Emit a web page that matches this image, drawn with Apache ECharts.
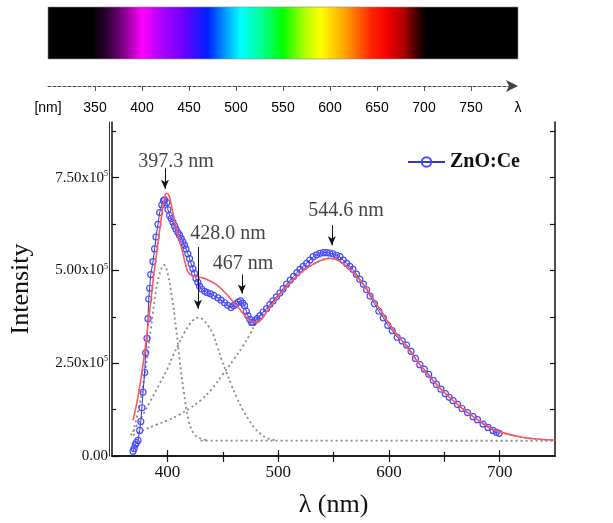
<!DOCTYPE html>
<html>
<head>
<meta charset="utf-8">
<script src="https://cdn.jsdelivr.net/npm/echarts@6/dist/echarts.min.js"></script>
<style>
  html, body { margin: 0; padding: 0; background: #fff; }
  #chart { width: 613px; height: 523px; }
</style>
</head>
<body>
<div id="chart"></div>
<script>
// spectrum strip (wavelength -> colour)
const spectrumTicks = [350, 400, 450, 500, 550, 600, 650, 700, 750]
const spectrumLabels = [300, 350, 400, 450, 500, 550, 600, 650, 700, 750, 800]
const spectrumStops = [
  [300, '#000000'], [347, '#000000'], [362, '#2a0030'], [382, '#8a0090'],
  [400, '#ff00ff'], [420, '#b000ff'], [445, '#6a00ff'], [470, '#0020ff'],
  [487, '#0090ff'], [505, '#00ffff'], [528, '#00ff90'], [550, '#00ff00'],
  [572, '#a8ff00'], [590, '#ffff00'], [618, '#ff9900'], [645, '#ff2000'],
  [662, '#f00000'], [678, '#b00000'], [692, '#400000'], [702, '#000000'],
  [800, '#000000']
]

// main plot ticks
const xMajor = [400, 500, 600, 700]
const xMinor = [450, 550, 650]
const xTop = [400, 450, 500, 550, 600, 650, 700]
const yMajor = [0, 2.5, 5, 7.5]
const yMinor = [1.25, 3.75, 6.25, 8.75]
const yRight = [1.25, 2.5, 3.75, 5, 6.25, 7.5, 8.75]

// measured PL spectrum, intensity in units of 1e5
const zno = [
  [369, 0.13], [370, 0.2], [371, 0.3], [372, 0.36], [373.5, 0.42], [375, 0.69],
  [376, 0.93], [377, 1.3], [378, 1.72], [379.5, 2.25], [380.4, 2.78], [381.6, 3.17],
  [382.5, 3.7], [383.2, 4.23], [384, 4.52], [385, 4.89], [387, 5.24], [388.5, 5.58],
  [389.7, 5.9], [391.5, 6.24], [393, 6.56], [395, 6.77], [396.5, 6.88], [397.5, 6.9],
  [399.6, 6.83], [400.5, 6.64], [402, 6.48], [403.5, 6.4], [405, 6.3], [406.5, 6.2],
  [407.8, 6.11], [409.5, 6.02], [411, 5.95], [412.5, 5.86], [414, 5.77], [415.5, 5.68],
  [416.8, 5.58], [418.5, 5.45], [420, 5.32], [421.5, 5.18], [423, 5.05], [424.5, 4.92],
  [425.8, 4.79], [427.5, 4.68], [429, 4.58], [431, 4.5], [433.6, 4.44], [436, 4.4],
  [439, 4.37], [442, 4.32], [445.6, 4.26], [448.5, 4.2], [451.7, 4.13], [454.5, 4.06],
  [457.5, 4.0], [460, 4.05], [462, 4.1], [464, 4.15], [466, 4.18], [468, 4.12],
  [469.7, 4.05], [471.3, 3.9], [472.7, 3.78], [474.5, 3.68], [476, 3.6], [477.5, 3.6],
  [479, 3.65], [481, 3.7], [483.6, 3.78], [486.5, 3.88], [489.6, 3.97], [492.5, 4.08],
  [495.4, 4.18], [498.5, 4.29], [501.6, 4.39], [504.5, 4.51], [507.7, 4.63], [511, 4.74],
  [514, 4.84], [517, 4.94], [519.7, 5.03], [522.7, 5.11], [525.7, 5.19], [528.7, 5.28],
  [531.6, 5.37], [534.7, 5.42], [537.7, 5.46], [540.8, 5.48], [543.8, 5.48], [546.7, 5.47],
  [549.5, 5.45], [552.7, 5.41], [555.8, 5.37], [558.8, 5.28], [561.8, 5.19], [564.7, 5.11],
  [567.5, 5.03], [570.7, 4.9], [573.8, 4.76], [577, 4.63], [579.9, 4.48], [583, 4.31],
  [587, 4.1], [591, 3.9], [595, 3.72], [599, 3.52], [603, 3.38], [607.5, 3.2],
  [612, 3.1], [616, 2.99], [620, 2.82], [624, 2.63], [628, 2.46], [632, 2.34],
  [636, 2.2], [640, 2.04], [643, 1.93], [647, 1.8], [651, 1.68], [654.5, 1.58],
  [658, 1.49], [662, 1.39], [666, 1.28], [671, 1.17], [676, 1.06], [680, 0.98],
  [685, 0.86], [689.5, 0.77], [694, 0.69], [697, 0.64], [699.6, 0.61]
]

// fitted envelope
const fit = [
  [369, 0.96], [373.5, 1.6], [378, 2.46], [382, 3.4], [385, 4.15], [388, 4.95],
  [391.5, 5.72], [394, 6.3], [396.5, 6.8], [399, 7.08], [401, 7.05], [403, 6.85],
  [406, 6.4], [410, 5.92], [414, 5.46], [418, 5.0], [421, 4.88], [425, 4.84],
  [432, 4.8], [439, 4.71], [446, 4.58], [455, 4.31], [464, 4.0], [471, 3.75],
  [476, 3.63], [481, 3.6], [486, 3.72], [490, 3.9], [496, 4.15], [502, 4.37],
  [514, 4.76], [526, 5.06], [538, 5.26], [547, 5.33], [556, 5.24], [568, 4.93],
  [580, 4.5], [592, 3.95], [604, 3.4], [616, 2.95], [628, 2.46], [643, 1.93],
  [658, 1.49], [676, 1.06], [694, 0.72], [700, 0.65], [718, 0.52], [736, 0.45],
  [750, 0.43]
]

// gaussian components
const peak1 = [
  [369, 0.65], [375, 1.4], [380, 2.3], [385, 3.4], [390, 4.5], [394, 5.0],
  [397, 5.15], [400, 4.95], [404, 4.3], [408, 3.4], [411, 2.6], [415, 1.7],
  [419, 0.98], [424, 0.6], [430, 0.47], [436, 0.43]
]
const peak2 = [
  [367, 0.56], [375, 0.95], [385, 1.5], [393, 1.95], [400, 2.35], [405, 2.7],
  [410, 3.0], [415, 3.3], [420, 3.55], [424, 3.68], [428, 3.73], [432, 3.68],
  [437, 3.5], [441, 3.3], [445, 2.95], [449, 2.6], [453, 2.28], [458, 1.9],
  [463, 1.55], [468, 1.25], [473, 1.0], [478, 0.78], [484, 0.6], [490, 0.48],
  [497, 0.43]
]
const peak3 = [
  [369, 0.56], [380, 0.72], [390, 0.84], [400, 0.96], [410, 1.1], [420, 1.28],
  [430, 1.5], [440, 1.8], [450, 2.2], [460, 2.6], [468, 2.95], [474, 3.25],
  [480, 3.6], [486, 3.85], [492, 4.05], [502, 4.37], [514, 4.76], [526, 5.06],
  [538, 5.26], [547, 5.33], [556, 5.24], [568, 4.93], [580, 4.5], [592, 3.95],
  [604, 3.4], [616, 2.95], [628, 2.46], [643, 1.93], [658, 1.49], [676, 1.06],
  [694, 0.72], [700, 0.65], [718, 0.52], [736, 0.45], [750, 0.43]
]
const baseline = [[430, 0.415], [750, 0.41]]

// peak annotations
const peakNames = ['397.3 nm', '428.0 nm', '467 nm', '544.6 nm']

const serif = '"Liberation Serif", "Times New Roman", serif'

const arrows = [
  [[397.8, 7.75], [397.8, 7.2]],
  [[427.6, 5.63], [427.6, 3.97]],
  [[467.3, 4.89], [467.3, 4.38]],
  [[548.5, 6.22], [548.5, 5.68]]
]
const labelSpots = [[407.8, 7.94], [454.7, 5.98], [468.2, 5.19], [561.2, 6.61]]

const chart = echarts.init(document.getElementById('chart'))

const gradient = new echarts.graphic.LinearGradient(0, 0, 1, 0,
  spectrumStops.map(s => ({ offset: (s[0] - 300) / 500, color: s[1] })))

const noAxisExtras = {
  axisLabel: { show: false },
  splitLine: { show: false }
}

chart.setOption({
  animation: false,
  backgroundColor: '#fff',
  grid: [
    { left: 112, right: 58, top: 122, bottom: 60 },
    { left: 48, width: 470, top: 7, height: 79 }
  ],
  legend: {
    data: ['ZnO:Ce'],
    left: 402,
    top: 147,
    itemWidth: 37,
    itemHeight: 12,
    textStyle: { fontFamily: serif, fontWeight: 'bold', fontSize: 20, color: '#111' }
  },
  xAxis: [
    {
      gridIndex: 0, type: 'value', min: 350, max: 750, position: 'bottom',
      name: 'λ (nm)', nameLocation: 'middle', nameGap: 36,
      nameTextStyle: { fontFamily: serif, fontSize: 26, color: '#111' },
      axisLine: { lineStyle: { color: '#111', width: 1.5 } },
      axisTick: { inside: true, length: 6, customValues: xMajor, lineStyle: { color: '#111', width: 1.2 } },
      axisLabel: { customValues: xMajor, fontFamily: serif, fontSize: 17, color: '#111', margin: 8 },
      splitLine: { show: false }
    },
    {
      gridIndex: 0, type: 'value', min: 350, max: 750, position: 'bottom',
      axisLine: { show: false },
      axisTick: { inside: true, length: 4, customValues: xMinor, lineStyle: { color: '#111', width: 1.2 } },
      ...noAxisExtras
    },
    {
      gridIndex: 0, type: 'value', min: 350, max: 750, position: 'top',
      axisLine: { lineStyle: { color: '#111', width: 1.5 } },
      axisTick: { inside: true, length: 6, customValues: xTop, lineStyle: { color: '#111', width: 1.2 } },
      ...noAxisExtras
    },
    {
      gridIndex: 1, type: 'value', min: 300, max: 800, position: 'bottom',
      axisLine: {
        lineStyle: { color: '#444', width: 1, type: [3, 2] },
        symbol: ['none', 'arrow'], symbolSize: [9, 12]
      },
      axisTick: { length: 5, customValues: spectrumTicks, lineStyle: { color: '#555' } },
      axisLabel: {
        customValues: spectrumLabels,
        formatter: v => v === 300 ? '[nm]' : (v === 800 ? 'λ' : String(v)),
        fontFamily: '"Liberation Sans", Arial, sans-serif', fontSize: 14, color: '#000', margin: 15
      },
      splitLine: { show: false }
    }
  ],
  yAxis: [
    {
      gridIndex: 0, type: 'value', min: 0, max: 9, position: 'left',
      name: 'Intensity', nameLocation: 'middle', nameGap: 78, nameRotate: 90,
      nameTextStyle: { fontFamily: serif, fontSize: 26, color: '#111' },
      axisLine: { lineStyle: { color: '#111', width: 1.5 } },
      axisTick: { inside: true, length: 7, customValues: yMajor, lineStyle: { color: '#111', width: 1.2 } },
      axisLabel: {
        customValues: yMajor, margin: 4,
        formatter: v => v === 0 ? '{m|0.00}' : '{m|' + v.toFixed(2) + 'x10}{e|5}',
        rich: {
          m: { fontFamily: serif, fontSize: 15, color: '#111', lineHeight: 16 },
          e: { fontFamily: serif, fontSize: 8, color: '#111', verticalAlign: 'top', lineHeight: 16, padding: [0, 0, 6, 0] }
        }
      },
      splitLine: { show: false }
    },
    {
      gridIndex: 0, type: 'value', min: 0, max: 9, position: 'left',
      axisLine: { show: false },
      axisTick: { inside: true, length: 4, customValues: yMinor, lineStyle: { color: '#111', width: 1.2 } },
      ...noAxisExtras
    },
    {
      gridIndex: 0, type: 'value', min: 0, max: 9, position: 'right',
      axisLine: { lineStyle: { color: '#111', width: 1.5 } },
      axisTick: { inside: true, length: 5, customValues: yRight, lineStyle: { color: '#111', width: 1.2 } },
      ...noAxisExtras
    },
    {
      gridIndex: 0, type: 'value', min: 0, max: 9, position: 'left', offset: 3,
      axisLine: { lineStyle: { color: '#333', width: 1 } },
      axisTick: { show: false },
      ...noAxisExtras
    },
    {
      gridIndex: 1, type: 'value', min: 0, max: 1, show: false
    }
  ],
  series: [
    {
      name: 'spectrum', type: 'line', xAxisIndex: 3, yAxisIndex: 4,
      data: [[300, 0], [800, 0]], symbol: 'none', lineStyle: { opacity: 0 },
      markArea: {
        silent: true,
        itemStyle: { color: gradient, borderColor: '#888', borderWidth: 0.6 },
        data: [[{ coord: [300, 0.342] }, { coord: [800, 1] }]]
      }
    },
    {
      name: 'baseline', type: 'line', data: baseline, symbol: 'none', z: 2,
      lineStyle: { color: '#8a8a8a', width: 1.8, type: [2, 3] }
    },
    {
      name: 'peak1', type: 'line', data: peak1, symbol: 'none', smooth: 0.4, z: 2,
      lineStyle: { color: '#8a8a8a', width: 1.8, type: [2, 3] }
    },
    {
      name: 'peak2', type: 'line', data: peak2, symbol: 'none', smooth: 0.4, z: 2,
      lineStyle: { color: '#8a8a8a', width: 1.8, type: [2, 3] }
    },
    {
      name: 'peak3', type: 'line', data: peak3, symbol: 'none', smooth: 0.4, z: 2,
      lineStyle: { color: '#8a8a8a', width: 1.8, type: [2, 3] }
    },
    {
      name: 'ZnO:Ce', type: 'line', data: zno, z: 3,
      symbol: 'circle', symbolSize: 6, showSymbol: true, showAllSymbol: true,
      itemStyle: { color: 'rgba(255,255,255,0)', borderColor: '#4a4aff', borderWidth: 1.2 },
      lineStyle: { color: '#3535c8', width: 1 }
    },
    {
      name: 'fit', type: 'line', data: fit, symbol: 'none', smooth: 0.35, z: 4,
      lineStyle: { color: '#ff5a5a', width: 1.6 }
    },
    {
      name: 'labels', type: 'scatter', z: 5, symbolSize: 1,
      itemStyle: { color: 'rgba(0,0,0,0)' },
      data: labelSpots.map((p, i) => ({ value: p, name: peakNames[i] })),
      label: {
        show: true, position: 'inside', formatter: p => p.name,
        fontFamily: serif, fontSize: 20, color: '#111'
      },
      markLine: {
        silent: true, symbol: ['none', 'arrow'], symbolSize: [6, 9],
        lineStyle: { color: '#111', width: 1, type: 'solid' },
        label: { show: false },
        data: arrows.map(a => [{ coord: a[0] }, { coord: a[1] }])
      }
    }
  ]
})
</script>
</body>
</html>
